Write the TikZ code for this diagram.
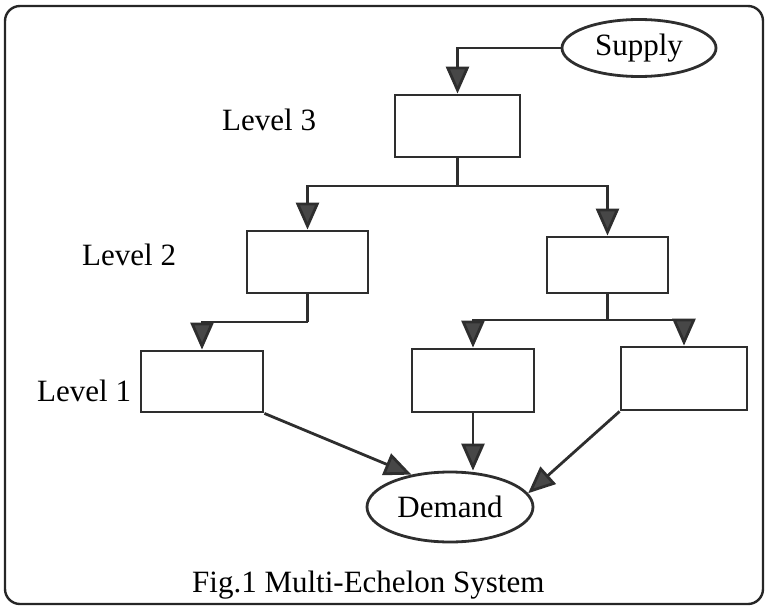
\documentclass[tikz,border=0pt]{standalone}
\usepackage{fontspec}
\setmainfont{Liberation Serif}
\usetikzlibrary{arrows.meta,shapes.geometric}
\begin{document}
\begin{tikzpicture}[x=1pt,y=-1pt,
  ln/.style={draw=black!82,line width=2.8pt},
  arr/.style={ln,-{Triangle[width=23pt,length=27pt,fill=black!72]}},
  box/.style={ln,rectangle,inner sep=0pt},
  oval/.style={ln,ellipse,inner sep=0pt,font=\fontsize{31}{36}\selectfont},
  lbl/.style={inner sep=0pt,anchor=base west,font=\fontsize{31}{36}\selectfont}]
\useasboundingbox (0,0) rectangle (768,610);
\draw[draw=black!85,line width=2.4pt,rounded corners=15pt] (5,6) rectangle (763,604);
% nodes
\node[oval,minimum width=154pt,minimum height=57pt] (supply) at (639,48) {Supply};
\node[box,minimum width=125pt,minimum height=62pt] (l3) at (457.5,126) {};
\node[box,minimum width=121pt,minimum height=62pt] (l2a) at (307.5,262) {};
\node[box,minimum width=121pt,minimum height=56pt] (l2b) at (607.5,265) {};
\node[box,minimum width=122pt,minimum height=61pt] (l1a) at (202,381.5) {};
\node[box,minimum width=122pt,minimum height=63pt] (l1b) at (473,380.5) {};
\node[box,minimum width=126pt,minimum height=63pt] (l1c) at (684,378.5) {};
\node[oval,minimum width=166pt,minimum height=70pt] (demand) at (450,507) {Demand};
% labels
\node[lbl] (t3) at (222,130) {Level 3};
\node[lbl] (t2) at (82,265) {Level 2};
\node[lbl] (t1) at (37,401) {Level 1};
\node[lbl] (cap) at (192,592) {Fig.1 Multi-Echelon System};
% connectors
\draw[arr] (supply.west) -| (l3.north);
\coordinate (j3) at (457.5,186);
\draw[ln] (l3.south) -- (j3);
\draw[arr] (j3) -| (l2a.north);
\draw[arr] (j3) -| (l2b.north);
\coordinate (j2a) at (307.5,322);
\draw[ln] (l2a.south) -- (j2a);
\draw[arr] (j2a) -| (l1a.north);
\coordinate (j2b) at (607.5,320);
\draw[ln] (l2b.south) -- (j2b);
\draw[arr] (j2b) -| (l1b.north);
\draw[arr] (j2b) -| (l1c.north);
\draw[arr] (l1a.south east) -- (demand.140);
\draw[arr] (l1b.south) -- (l1b.south |- demand.north);
\draw[arr] (l1c.south west) -- (demand.10);
\end{tikzpicture}
\end{document}
